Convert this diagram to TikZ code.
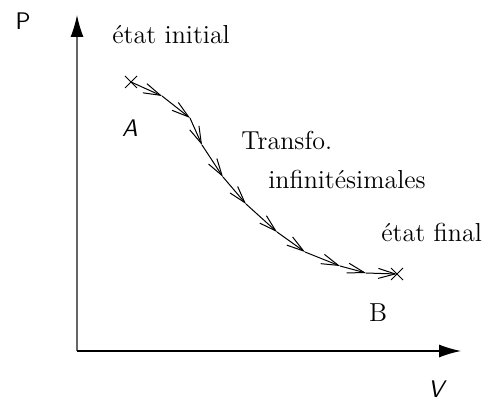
\documentclass[tikz,border=0pt]{standalone}
\usetikzlibrary{arrows.meta}
\begin{document}
\begin{tikzpicture}[x=0.5pt,y=-0.5pt,
  lbl/.style={inner sep=0pt,font=\fontsize{13}{15}\selectfont},
  sflbl/.style={inner sep=0pt,font=\fontsize{12}{14}\selectfont\sffamily},
  sfit/.style={inner sep=0pt,font=\fontsize{12}{14}\selectfont\sffamily\itshape},
  axis/.style={line width=0.6pt,-{Latex[length=11pt,width=6.5pt,color=black]}},
  seg/.style={line width=0.5pt,-{Straight Barb[length=8.5pt,width=5pt]}},
  crossmark/.style={line width=0.5pt}]
\useasboundingbox (0,0) rectangle (491,405);
% axes
\coordinate (O) at (77,351);
\coordinate (Ptop) at (77,15);
\coordinate (Vend) at (461,351);
\draw[axis,draw=black!60] (O) -- (Ptop);
\draw[axis] (O) -- (Vend);
% curve points
\coordinate (p0) at (131,82);
\coordinate (p1) at (162,96);
\coordinate (p2) at (190,118);
\coordinate (p3) at (202,145);
\coordinate (p4) at (223,177);
\coordinate (p5) at (246,204);
\coordinate (p6) at (277,232);
\coordinate (p7) at (305,252);
\coordinate (p8) at (340,266);
\coordinate (p9) at (366,273);
\coordinate (p10) at (397,274);
\foreach \a/\b in {p0/p1,p1/p2,p2/p3,p3/p4,p4/p5,p5/p6,p6/p7,p7/p8,p8/p9,p9/p10}
  \draw[seg] (\a) -- (\b);
% crosses
\draw[crossmark] ([shift={(-6,-6)}]p0) -- ([shift={(6,6)}]p0);
\draw[crossmark] ([shift={(-6,6)}]p0) -- ([shift={(6,-6)}]p0);
\draw[crossmark] ([shift={(-6,-6)}]p10) -- ([shift={(6,6)}]p10);
\draw[crossmark] ([shift={(-6,6)}]p10) -- ([shift={(6,-6)}]p10);
% labels
\node[sflbl] (P) at (23,21) {P};
\node[sfit] (V) at (436,389) {V};
\node[sfit] (A) at (130,128) {A};
\node[lbl] (B) at (378,313) {B};
\node[lbl,anchor=west] (ei) at (112,35) {état initial};
\node[lbl,anchor=west] (tr) at (241,140) {Transfo.};
\node[lbl,anchor=west] (inf) at (268,179) {infinitésimales};
\node[lbl,anchor=west] (ef) at (381,232) {état final};
\end{tikzpicture}
\end{document}
